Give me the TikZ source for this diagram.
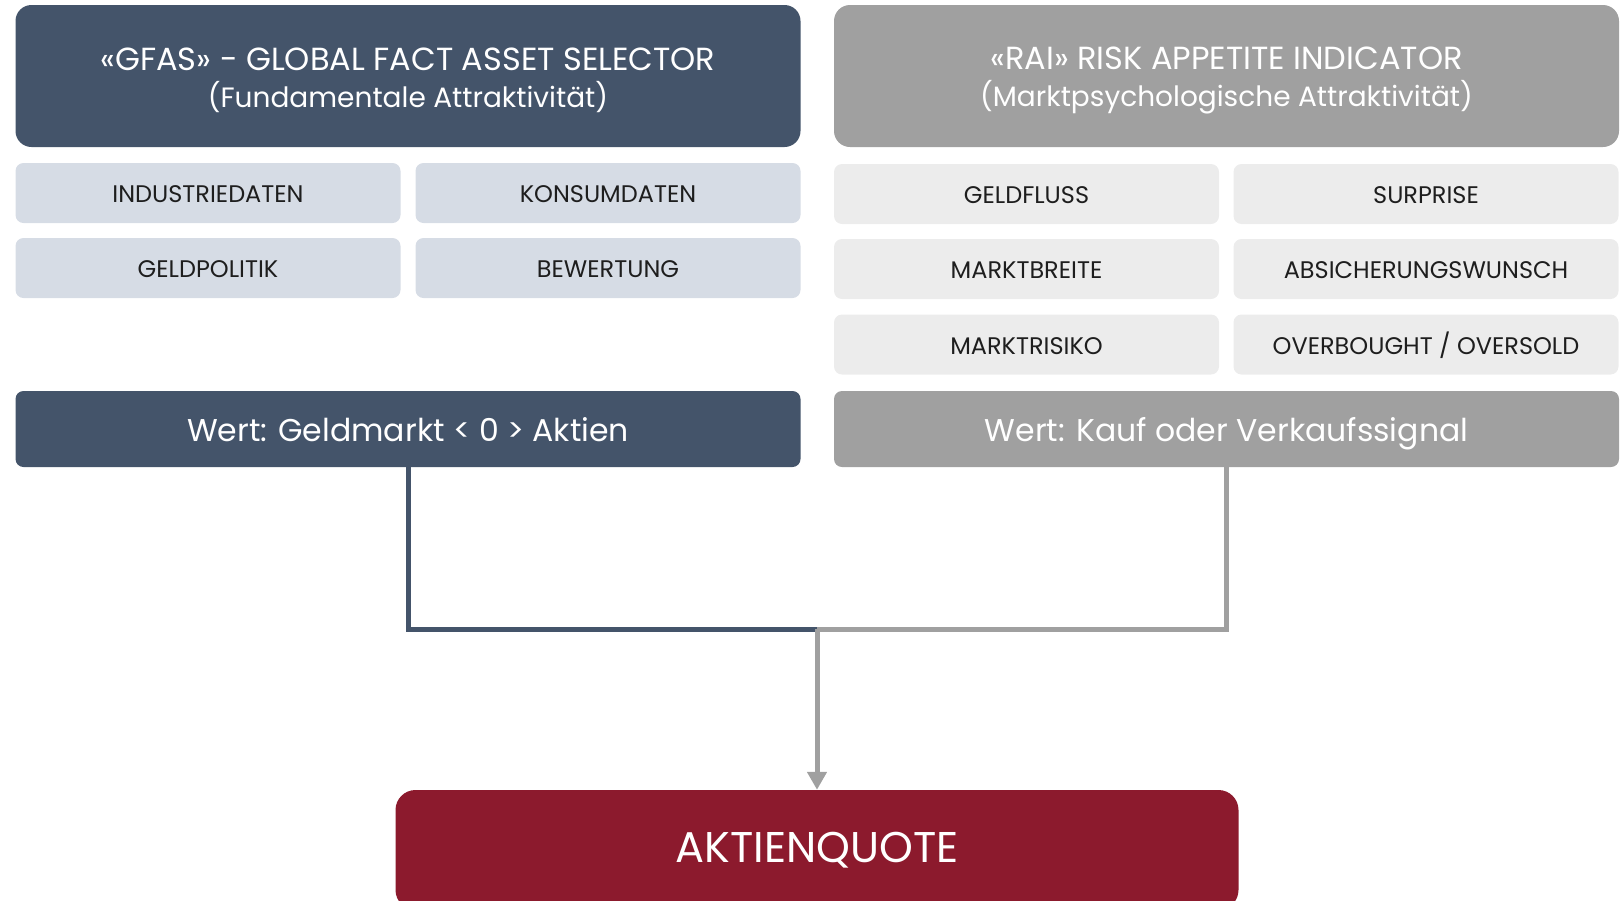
\documentclass[tikz,border=0pt]{standalone}
\usepackage{fontspec}
\setmainfont{Poppins}
\usepackage{tikz}
\usetikzlibrary{arrows.meta,positioning}
\usepackage{xcolor}
\definecolor{gfasblue}{RGB}{68,84,106}
\definecolor{raigray}{RGB}{160,160,160}
\definecolor{gfaslight}{RGB}{214,220,229}
\definecolor{railight}{RGB}{236,236,236}
\definecolor{quotered}{RGB}{140,26,45}
\definecolor{labeltext}{RGB}{30,30,30}
\newcommand{\headsub}{\fontsize{28}{37}\selectfont}
\tikzstyle{header} = [rounded corners=16pt, minimum width=785pt, minimum height=142pt, align=center, text=white, font=\fontsize{32}{37}\selectfont]
\tikzstyle{factor} = [rounded corners=8pt, minimum width=385pt, minimum height=60pt, text height=23pt, text depth=4pt, text=labeltext, font=\fontsize{24}{28}\selectfont]
\tikzstyle{valuebox} = [rounded corners=8pt, minimum width=785pt, minimum height=76pt, text height=31pt, text depth=6pt, text=white, font=\fontsize{31.5}{36}\selectfont]
\tikzstyle{link} = [line width=5pt]

\begin{document}
\begin{tikzpicture}[x=1pt, y=-1pt]
    \clip (0,0) rectangle (1624,900);

    % Headers
    \node[header, fill=gfasblue] (gfas) at (408,76) {\rule{0pt}{31pt}«GFAS» - GLOBAL FACT ASSET SELECTOR\\{\headsub (Fundamentale Attraktivität)}};
    \node[header, fill=raigray] (rai) at (1226.5,76) {\rule{0pt}{31pt}«RAI» RISK APPETITE INDICATOR\\{\headsub (Marktpsychologische Attraktivität)}};

    % GFAS factors
    \node[factor, fill=gfaslight] (industrie) at (208,193) {INDUSTRIEDATEN};
    \node[factor, fill=gfaslight] (konsum) at (608,193) {KONSUMDATEN};
    \node[factor, fill=gfaslight] (geldpolitik) at (208,268) {GELDPOLITIK};
    \node[factor, fill=gfaslight] (bewertung) at (608,268) {BEWERTUNG};

    % RAI factors
    \node[factor, fill=railight] (geldfluss) at (1026.5,194) {GELDFLUSS};
    \node[factor, fill=railight] (surprise) at (1426,194) {SURPRISE};
    \node[factor, fill=railight] (breite) at (1026.5,269) {MARKTBREITE};
    \node[factor, fill=railight] (absicherung) at (1426,269) {ABSICHERUNGSWUNSCH};
    \node[factor, fill=railight] (risiko) at (1026.5,344.5) {MARKTRISIKO};
    \node[factor, fill=railight] (overbought) at (1426,344.5) {OVERBOUGHT / OVERSOLD};

    % Values
    \node[valuebox, fill=gfasblue] (gfasval) at (408,429) {Wert: Geldmarkt < 0 > Aktien};
    \node[valuebox, fill=raigray] (raival) at (1226.5,429) {Wert: Kauf oder Verkaufssignal};

    % Result
    \node[fill=quotered, rounded corners=20pt, minimum width=843pt, minimum height=120pt, text=white, font=\fontsize{43}{50}\selectfont] (quote) at (817,850) {AKTIENQUOTE};

    % Connectors
    \coordinate (join) at (817,629);
    \draw[link, gfasblue] (gfasval.south) |- (join);
    \draw[link, raigray] (raival.south) |- (join);
    \draw[link, raigray, -{Triangle[width=19pt,length=18pt]}] (join) -- (quote.north);
\end{tikzpicture}
\end{document}
